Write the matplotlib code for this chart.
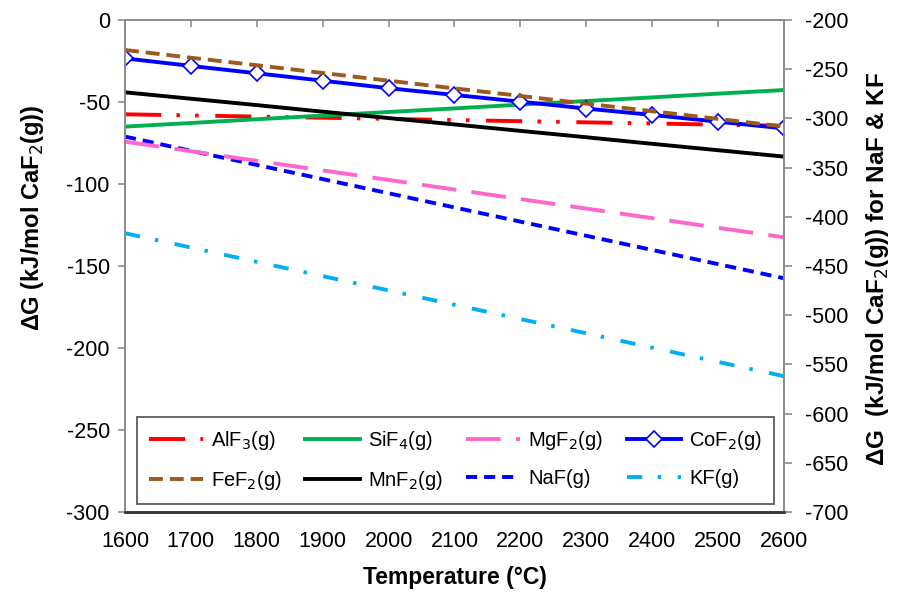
import matplotlib
matplotlib.use("Agg")
import matplotlib.pyplot as plt

plt.rcParams["font.family"] = ["Liberation Sans", "DejaVu Sans"]
plt.rcParams["lines.scale_dashes"] = False
plt.rcParams["axes.unicode_minus"] = False

# ===== data =====
temps = [1600, 1700, 1800, 1900, 2000, 2100, 2200, 2300, 2400, 2500, 2600]

# left axis, kJ/mol CaF2(g)
alf3 = [-57.5, -58.2, -58.9, -59.6, -60.3, -61.0, -61.7, -62.4, -63.1, -63.8, -64.5]
sif4 = [-65.0, -62.8, -60.5, -58.3, -56.1, -53.9, -51.6, -49.4, -47.2, -44.9, -42.7]
mgf2 = [-74.2, -80.0, -85.9, -91.7, -97.5, -103.4, -109.2, -115.0, -120.8, -126.7, -132.5]
cof2 = [-23.4, -28.0, -32.5, -37.0, -41.6, -45.7, -49.8, -54.0, -57.9, -62.0, -66.1]
fef2 = [-18.3, -23.0, -27.6, -32.3, -37.0, -41.7, -46.3, -51.0, -55.6, -60.3, -65.0]
mnf2 = [-44.1, -48.0, -51.9, -55.9, -59.8, -63.7, -67.6, -71.5, -75.5, -79.4, -83.3]

# right axis, NaF & KF
naf = [-318.5, -332.9, -347.3, -361.7, -376.1, -390.5, -404.9, -419.3, -433.7, -448.1, -462.5]
kf = [-416.7, -431.2, -445.8, -460.3, -474.8, -489.4, -503.9, -518.4, -533.0, -547.5, -562.0]

xticks = list(range(1600, 2700, 100))
yticks_left = list(range(-300, 1, 50))
yticks_right = list(range(-700, -199, 50))

# ===== figure =====
fig = plt.figure(figsize=(9.08, 5.97), dpi=100)
ax = fig.add_axes([0.1377, 0.1424, 0.7257, 0.8241])
ax2 = ax.twinx()

lw = 2.8
l_alf3, = ax.plot(temps, alf3, color="#FF0000", lw=lw, dashes=(26, 11, 2.5, 11, 2.5, 12), label="AlF$_3$(g)")
l_sif4, = ax.plot(temps, sif4, color="#00B050", lw=lw, label="SiF$_4$(g)")
l_mgf2, = ax.plot(temps, mgf2, color="#FF66CC", lw=lw, dashes=(25, 11), label="MgF$_2$(g)")
l_cof2, = ax.plot(temps, cof2, color="#0000FF", lw=lw, marker="D", markersize=8,
                  markerfacecolor="white", markeredgecolor="#0000FF", markeredgewidth=1.2,
                  label="CoF$_2$(g)")
l_fef2, = ax.plot(temps, fef2, color="#9C5A1E", lw=lw, dashes=(10, 5), label="FeF$_2$(g)")
l_mnf2, = ax.plot(temps, mnf2, color="black", lw=lw, label="MnF$_2$(g)")
l_naf, = ax2.plot(temps, naf, color="#0000FF", lw=lw, dashes=(8, 5), label="NaF(g)")
l_kf, = ax2.plot(temps, kf, color="#00B0F0", lw=lw, dashes=(11, 11, 2.5, 12), label="KF(g)")

# left axis lines on top of the right axis ones
ax.set_zorder(ax2.get_zorder() + 1)
ax.patch.set_visible(False)

ax.set_xlim(1600, 2600)
ax.set_ylim(-300, 0)
ax2.set_ylim(-700, -200)
ax.set_xticks(xticks)
ax.set_yticks(yticks_left)
ax2.set_yticks(yticks_right)

grey = "#8C8C8C"
for a in (ax, ax2):
    for s in ("left", "right", "top"):
        a.spines[s].set_color(grey)
        a.spines[s].set_linewidth(1.3)
    a.spines["bottom"].set_color("#333333")
    a.spines["bottom"].set_linewidth(1.8)

ax.tick_params(axis="x", top=True, bottom=False, direction="in", length=5, width=1.2,
               color=grey, labelsize=15.5, pad=14)
ax.tick_params(axis="y", direction="out", length=5, width=1.2, color=grey, labelsize=15.5, pad=6)
ax2.tick_params(axis="y", direction="out", length=6, width=1.2, color=grey, labelsize=15.5, pad=9)

ax.set_xlabel("Temperature (°C)", fontsize=16.5, fontweight="bold", labelpad=10)
fig.text(0.036, 0.635, "ΔG (kJ/mol CaF$_2$(g))", rotation=90, fontsize=17,
         fontweight="bold", ha="center", va="center")
fig.text(0.966, 0.55, "ΔG  (kJ/mol CaF$_2$(g)) for NaF & KF", rotation=90, fontsize=17.5,
         fontweight="bold", ha="center", va="center")

handles = [l_alf3, l_fef2, l_sif4, l_mnf2, l_mgf2, l_naf, l_cof2, l_kf]
leg = ax.legend(handles=handles, ncol=4, loc="lower left",
                bbox_to_anchor=(0.018, 0.016, 0.967, 0.179), mode="expand",
                fontsize=14.5, frameon=True, fancybox=False, edgecolor="#333333",
                handlelength=2.7, handletextpad=0.4, borderaxespad=0, columnspacing=0.8,
                labelspacing=0.85, borderpad=0.6)
leg.get_frame().set_linewidth(1.3)

fig.savefig("out.png", dpi=100)
